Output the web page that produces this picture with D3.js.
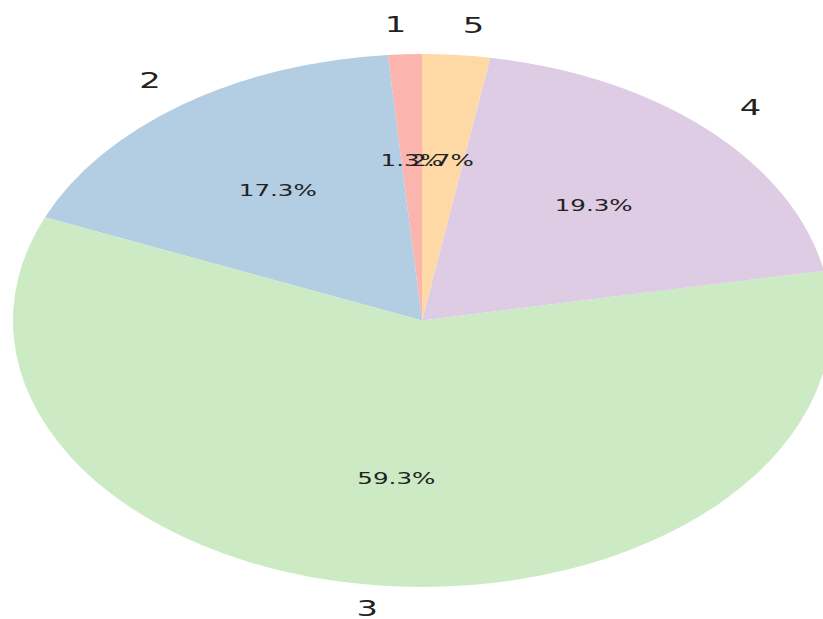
<!DOCTYPE html>
<html>
<head>
<meta charset="utf-8">
<script src="https://cdn.jsdelivr.net/npm/d3@7"></script>
<style>
  body { margin: 0; background: #fff; }
  text { font-family: "DejaVu Sans", sans-serif; fill: #222; }
</style>
</head>
<body>
<script>
// slice data
var categories = ["1", "2", "3", "4", "5"];
var counts = [2, 26, 89, 29, 4];
var colors = ["#fbb4ae", "#b3cde3", "#ccebc5", "#decbe4", "#fed9a6"];

var W = 823, H = 619;
var cx = 422, cy = 320.5;
var r = 266.5;
var sx = 409 / r; // picture is stretched sideways

var total = d3.sum(counts);
var pct = d3.format(".1f");

var svg = d3.select("body").append("svg")
    .attr("width", W)
    .attr("height", H);

var g = svg.append("g")
    .attr("transform", "translate(" + cx + "," + cy + ") scale(" + sx + ",1)");

// counter-clockwise from 12 o'clock, like startangle=90
var pie = d3.pie()
    .sort(null)
    .value(function(d) { return d; })
    .startAngle(0)
    .endAngle(-2 * Math.PI);

var arcs = pie(counts);

var arc = d3.arc().innerRadius(0).outerRadius(r);

g.selectAll("path.slice")
    .data(arcs)
    .enter()
    .append("path")
    .attr("class", "slice")
    .attr("d", arc)
    .style("fill", function(d, i) { return colors[i]; });

function pos(d, k) {
  var a = (d.startAngle + d.endAngle) / 2;
  return [k * r * Math.sin(a), -k * r * Math.cos(a)];
}

g.selectAll("text.lab")
    .data(arcs)
    .enter()
    .append("text")
    .attr("class", "lab")
    .attr("x", function(d) {
      var x = pos(d, 1.1)[0];
      return x > 0 ? x + 2 : x + 2;
    })
    .attr("y", function(d) { return pos(d, 1.1)[1]; })
    .attr("text-anchor", function(d) {
      var x = pos(d, 1.1)[0];
      return x > 0 ? "start" : "end";
    })
    .attr("dy", "0.2em")
    .style("font-size", "22px")
    .text(function(d, i) { return categories[i]; });

g.selectAll("text.pct")
    .data(arcs)
    .enter()
    .append("text")
    .attr("class", "pct")
    .attr("x", function(d) { return pos(d, 0.6)[0]; })
    .attr("y", function(d) { return pos(d, 0.6)[1]; })
    .attr("text-anchor", "middle")
    .attr("dy", "0.3em")
    .style("font-size", "16px")
    .text(function(d) { return pct(d.value / total * 100) + "%"; });
</script>
</body>
</html>
